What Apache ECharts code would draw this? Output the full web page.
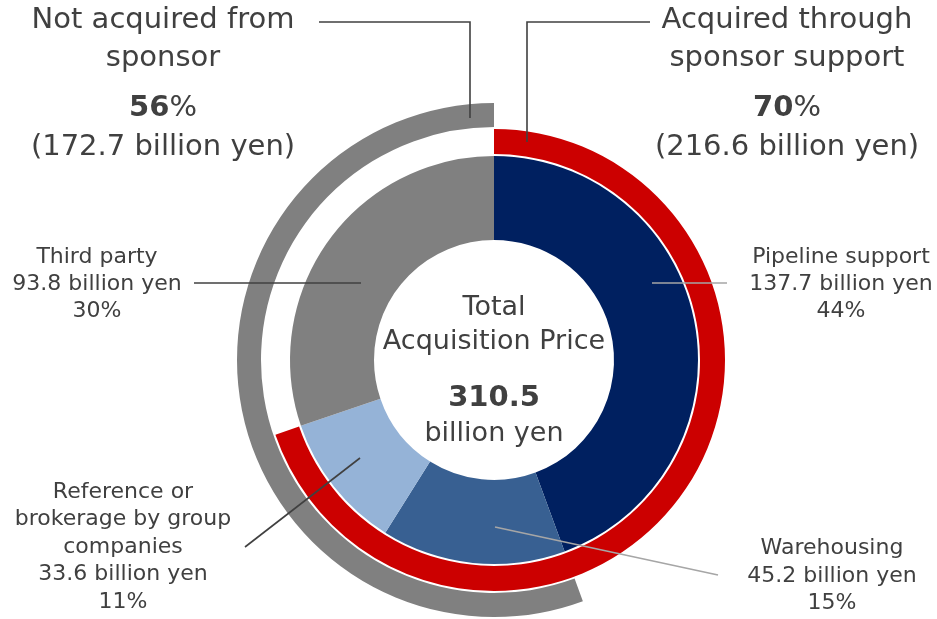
<!DOCTYPE html>
<html>
<head>
<meta charset="utf-8">
<script src="https://cdn.jsdelivr.net/npm/echarts@6/dist/echarts.min.js"></script>
<style>
  html, body { margin: 0; padding: 0; background: #ffffff; }
  #chart { width: 937px; height: 619px; }
</style>
</head>
<body>
<div id="chart"></div>
<script>
// Acquisition price breakdown (billion yen)
const totalPrice = 310.5;
const categories = ['Pipeline support', 'Warehousing', 'Reference or\nbrokerage by group\ncompanies', 'Third party'];
const values = [137.7, 45.2, 33.6, 93.8];
// Sponsor-related groupings
const sponsorGroups = ['Acquired through\nsponsor support', 'Not acquired from\nsponsor'];
const sponsorValues = [216.6, 172.7];

const sliceColors = ['#002060', '#386092', '#95b3d7', '#808080'];
const sponsorColor = '#cc0000';
const nonSponsorColor = '#808080';
const textColor = '#404040';
const FONT = '"DejaVu Sans", Verdana, sans-serif';

const pct = v => Math.round(v / totalPrice * 100);
const CX = 494, CY = 360;

const chart = echarts.init(document.getElementById('chart'), null, { renderer: 'canvas' });

const ringBase = {
  type: 'pie',
  center: [CX, CY],
  startAngle: 90,
  silent: true,
  animation: false,
  z: 2,
  label: { show: false },
  labelLine: { show: false },
  emphasis: { disabled: true },
  avoidLabelOverlap: false
};

function txt(x, y, text, size, lineHeight, extra) {
  return {
    type: 'text',
    silent: true,
    z: 200,
    style: Object.assign({
      x: x, y: y, text: text,
      fill: textColor,
      font: size + 'px ' + FONT,
      lineHeight: lineHeight,
      align: 'center',
      verticalAlign: 'middle'
    }, extra || {})
  };
}
function line(points, color) {
  return {
    type: 'polyline',
    silent: true,
    z: 100,
    shape: { points: points },
    style: { stroke: color, lineWidth: 1.6, fill: null }
  };
}
function labelText(i) {
  return categories[i] + '\n' + values[i] + ' billion yen\n' + pct(values[i]) + '%';
}
function pctRich(v) {
  return {
    text: '{b|' + pct(v) + '}{r|%}',
    rich: {
      b: { font: 'bold 29px ' + FONT, fill: textColor },
      r: { font: '29px ' + FONT, fill: textColor }
    }
  };
}

const option = {
  backgroundColor: '#ffffff',
  series: [
    // inner breakdown ring
    Object.assign({}, ringBase, {
      radius: [120, 204],
      clockwise: true,
      data: values.map((v, i) => ({ name: categories[i], value: v, itemStyle: { color: sliceColors[i] } }))
    }),
    // sponsor-supported share (clockwise from top)
    Object.assign({}, ringBase, {
      radius: [206, 231],
      clockwise: true,
      data: [
        { name: sponsorGroups[0], value: sponsorValues[0], itemStyle: { color: sponsorColor } },
        { name: 'rest', value: totalPrice - sponsorValues[0], itemStyle: { color: 'rgba(0,0,0,0)' } }
      ]
    }),
    // non-sponsor share (counter-clockwise from top)
    Object.assign({}, ringBase, {
      radius: [233, 257],
      clockwise: false,
      data: [
        { name: sponsorGroups[1], value: sponsorValues[1], itemStyle: { color: nonSponsorColor } },
        { name: 'rest', value: totalPrice - sponsorValues[1], itemStyle: { color: 'rgba(0,0,0,0)' } }
      ]
    })
  ],
  graphic: [
    // leader lines
    line([[319, 22], [470, 22], [470, 118]], '#404040'),
    line([[650, 22], [527, 22], [527, 142]], '#404040'),
    line([[194, 283], [361, 283]], '#404040'),
    line([[652, 283], [727, 283]], '#a6a6a6'),
    line([[245, 547], [360, 458]], '#404040'),
    line([[495, 527], [718, 575]], '#a6a6a6'),

    // group headings
    txt(163, 39, sponsorGroups[1], 29, 38),
    txt(163, 108, '', 29, 38, pctRich(sponsorValues[1])),
    txt(163, 147, '(' + sponsorValues[1] + ' billion yen)', 29, 38),
    txt(787, 39, sponsorGroups[0], 29, 38),
    txt(787, 108, '', 29, 38, pctRich(sponsorValues[0])),
    txt(787, 147, '(' + sponsorValues[0] + ' billion yen)', 29, 38),

    // centre total
    txt(CX, 325, 'Total\nAcquisition Price', 27, 34),
    txt(CX, 398, String(totalPrice), 29, 34, { font: 'bold 29px ' + FONT }),
    txt(CX, 434, 'billion yen', 27, 34),

    // slice labels
    txt(841, 284, labelText(0), 22, 27),
    txt(832, 576, labelText(1), 22, 27.5),
    txt(123, 547, labelText(2), 22, 27.5),
    txt(97, 284, labelText(3), 22, 27)
  ]
};

chart.setOption(option);
</script>
</body>
</html>
